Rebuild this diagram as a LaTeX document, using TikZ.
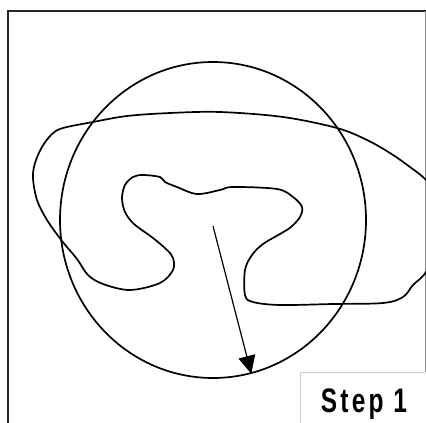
\documentclass[tikz,border=0pt]{standalone}
\usepackage{fontspec}
\newfontfamily\stepfont{Liberation Sans}[LetterSpace=13]
\usetikzlibrary{shapes.geometric,arrows.meta}
\begin{document}
\begin{tikzpicture}[x=1pt,y=-1pt,
  ink/.style={line width=1.7pt,black},
  framestyle/.style={line width=2pt,black!85},
  greyline/.style={line width=1pt,black!45},
  boxline/.style={line width=0.8pt,black!20},
  steplabel/.style={font=\stepfont\bfseries\fontsize{34}{36}\selectfont,xscale=0.72,inner sep=0,anchor=base},
  arrowtip/.style={-{Triangle[length=18pt,width=17pt]}}]
\useasboundingbox (0,0) rectangle (426,423);
\clip (0,0) rectangle (426,423);
\fill[white] (0,0) rectangle (426,423);
% frame
\draw[framestyle] (8,430) -- (8,11) -- (430,11);
\draw[greyline] (425,11) -- (425,430);
% big ring
\node[draw,ink,ellipse,minimum width=306pt,minimum height=316pt,inner sep=0] (ring) at (213,220) {};
% irregular closed curve
\draw[ink,line join=round] plot[smooth cycle,tension=0.55] coordinates {
(220,112) (283,117) (337,128) (367,140) (390,153) (410,167) (426,180)
(440,200) (442,240) (426,272) (413,285) (403,297) (383,303) (333,304)
(280,305) (253,302) (245,295) (245,270) (252,255) (263,244) (280,234)
(291,227) (300,217) (302,207) (293,197) (277,189) (233,187) (220,190)
(197,194) (177,187) (165,182) (160,177) (143,175) (133,177) (125,185)
(122,198) (125,212) (134,224) (153,238) (167,250) (173,258) (173,270)
(160,283) (130,290) (103,284) (88,275) (77,259) (62,241) (47,220)
(37,200) (33,178) (35,163) (42,147) (52,134) (63,128) (93,122)
(127,116) (170,113)};
% arrow
\coordinate (c) at (213,226);
\draw[line width=1.2pt,arrowtip] (c) -- (ring.-76.4);
% step box
\fill[white] (300,372) rectangle (430,430);
\draw[boxline] (300,430) -- (300,372) -- (425,372);
\node[steplabel] (step) at (364,412) {Step 1};
\end{tikzpicture}
\end{document}
